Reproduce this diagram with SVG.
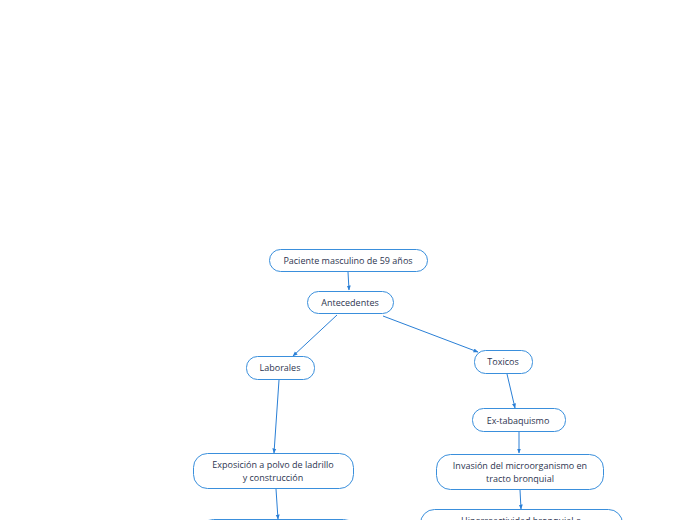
<svg xmlns="http://www.w3.org/2000/svg" width="696" height="520" viewBox="0 0 696 520">
<defs>
<marker id="ah" viewBox="0 0 10 10" refX="9" refY="5" markerWidth="5" markerHeight="5" orient="auto">
<path d="M0,1 L10,5 L0,9 z" fill="#2a7fd6"/>
</marker>
<style>
.n rect{fill:#ffffff;stroke:#3a8fdc;stroke-width:1;}
.n text{font-family:"Open Sans","Noto Sans",sans-serif;font-size:9px;fill:#2d3550;text-anchor:middle;}
.c line{stroke:#2a7fd6;stroke-width:1;marker-end:url(#ah);}
</style>
</defs>
<rect width="696" height="520" fill="#ffffff"/>
<g id="connectors" class="c">
<line x1="348" y1="272" x2="349" y2="290"/>
<line x1="337" y1="315" x2="293" y2="356"/>
<line x1="383" y1="316" x2="478" y2="352"/>
<line x1="279" y1="380" x2="274" y2="453"/>
<line x1="507" y1="374" x2="515" y2="408"/>
<line x1="519" y1="432" x2="519" y2="453"/>
<line x1="276" y1="489" x2="278" y2="519"/>
<line x1="520" y1="490" x2="521" y2="509"/>
</g>
<g id="n1" class="n"><rect x="269.5" y="249.5" width="158" height="22" rx="11"/><text x="348" y="263.5">Paciente masculino de 59 años</text></g>
<g id="n2" class="n"><rect x="307.5" y="291.5" width="86" height="22" rx="11"/><text x="350" y="305.5">Antecedentes</text></g>
<g id="n3" class="n"><rect x="246.5" y="356.5" width="68" height="23" rx="11"/><text x="280" y="371">Laborales</text></g>
<g id="n4" class="n"><rect x="474.5" y="350.5" width="58" height="23" rx="11"/><text x="503" y="365">Toxicos</text></g>
<g id="n5" class="n"><rect x="472.5" y="408.5" width="93" height="23" rx="11"/><text x="518" y="423.5">Ex-tabaquismo</text></g>
<g id="n6" class="n"><rect x="193.5" y="453.5" width="160" height="35" rx="14"/><text x="273" y="468">Exposición a polvo de ladrillo</text><text x="273" y="481">y construcción</text></g>
<g id="n7" class="n"><rect x="436.5" y="454.5" width="167" height="35" rx="14"/><text x="520" y="469">Invasión del microorganismo en</text><text x="520" y="482">tracto bronquial</text></g>
<g id="n8" class="n"><rect x="199.5" y="519.5" width="158" height="30" rx="14"/></g>
<g id="n9" class="n"><rect x="420.5" y="509.5" width="202" height="35" rx="14"/><text x="521" y="524">Hiperreactividad bronquial e</text></g>
</svg>
